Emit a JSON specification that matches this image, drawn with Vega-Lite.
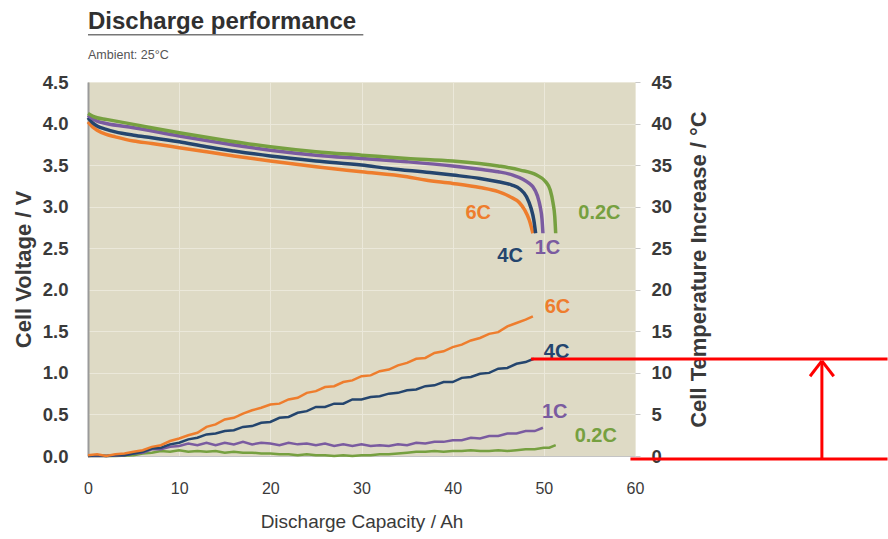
{
"$schema":"https://vega.github.io/schema/vega-lite/v6.json",
"width":547,"height":374,
"autosize":{"type":"none"},
"padding":{"left":88,"top":82,"right":253,"bottom":83},
"background":"white",
"config":{"font":"Liberation Sans","view":{"fill":"#dedac5","stroke":"#cbc8b8"},"axis":{"labelColor":"#3a3a3a","titleColor":"#3a3a3a"}},
"title":{"text":"Discharge performance","subtitle":"Ambient: 25°C","anchor":"start","frame":"group","fontSize":24,"fontWeight":"bold","color":"#303030","subtitleFontSize":12.5,"subtitleColor":"#555555","subtitlePadding":15,"offset":-28},
"datasets":{
"volt":[
{"r":"6C","x":0,"v":4.02},{"r":"6C","x":0.5,"v":3.96},{"r":"6C","x":1,"v":3.92},{"r":"6C","x":2,"v":3.87},{"r":"6C","x":3,"v":3.84},{"r":"6C","x":5,"v":3.79},{"r":"6C","x":7,"v":3.76},{"r":"6C","x":10,"v":3.71},{"r":"6C","x":13,"v":3.66},{"r":"6C","x":16,"v":3.61},{"r":"6C","x":20,"v":3.55},{"r":"6C","x":25,"v":3.48},{"r":"6C","x":30,"v":3.42},{"r":"6C","x":35,"v":3.36},{"r":"6C","x":37,"v":3.32},{"r":"6C","x":40,"v":3.28},{"r":"6C","x":43,"v":3.23},{"r":"6C","x":45,"v":3.18},{"r":"6C","x":46.3,"v":3.12},{"r":"6C","x":47.3,"v":3.05},{"r":"6C","x":47.9,"v":2.96},{"r":"6C","x":48.4,"v":2.84},{"r":"6C","x":48.8,"v":2.68},
{"r":"4C","x":0,"v":4.07},{"r":"4C","x":0.5,"v":4.01},{"r":"4C","x":1,"v":3.97},{"r":"4C","x":2,"v":3.93},{"r":"4C","x":3,"v":3.9},{"r":"4C","x":5,"v":3.86},{"r":"4C","x":7,"v":3.83},{"r":"4C","x":10,"v":3.78},{"r":"4C","x":13,"v":3.72},{"r":"4C","x":16,"v":3.67},{"r":"4C","x":20,"v":3.61},{"r":"4C","x":25,"v":3.55},{"r":"4C","x":30,"v":3.5},{"r":"4C","x":33,"v":3.46},{"r":"4C","x":37.5,"v":3.41},{"r":"4C","x":40,"v":3.38},{"r":"4C","x":43,"v":3.34},{"r":"4C","x":45,"v":3.3},{"r":"4C","x":46.5,"v":3.26},{"r":"4C","x":47.4,"v":3.21},{"r":"4C","x":48.1,"v":3.12},{"r":"4C","x":48.6,"v":2.98},{"r":"4C","x":48.9,"v":2.84},{"r":"4C","x":49.1,"v":2.68},
{"r":"1C","x":0,"v":4.1},{"r":"1C","x":0.5,"v":4.06},{"r":"1C","x":1,"v":4.03},{"r":"1C","x":2,"v":4.0},{"r":"1C","x":5,"v":3.95},{"r":"1C","x":10,"v":3.85},{"r":"1C","x":15,"v":3.76},{"r":"1C","x":20,"v":3.68},{"r":"1C","x":25,"v":3.62},{"r":"1C","x":30,"v":3.58},{"r":"1C","x":35,"v":3.54},{"r":"1C","x":40,"v":3.49},{"r":"1C","x":43,"v":3.45},{"r":"1C","x":45,"v":3.42},{"r":"1C","x":46.6,"v":3.38},{"r":"1C","x":47.7,"v":3.33},{"r":"1C","x":48.4,"v":3.28},{"r":"1C","x":48.8,"v":3.24},{"r":"1C","x":49.3,"v":3.13},{"r":"1C","x":49.6,"v":3.0},{"r":"1C","x":49.8,"v":2.85},{"r":"1C","x":49.9,"v":2.68},
{"r":"0.2C","x":0,"v":4.12},{"r":"0.2C","x":0.5,"v":4.09},{"r":"0.2C","x":1,"v":4.07},{"r":"0.2C","x":2,"v":4.05},{"r":"0.2C","x":5,"v":3.99},{"r":"0.2C","x":10,"v":3.89},{"r":"0.2C","x":15,"v":3.8},{"r":"0.2C","x":20,"v":3.72},{"r":"0.2C","x":25,"v":3.66},{"r":"0.2C","x":30,"v":3.62},{"r":"0.2C","x":35,"v":3.58},{"r":"0.2C","x":40,"v":3.55},{"r":"0.2C","x":45,"v":3.49},{"r":"0.2C","x":47.4,"v":3.44},{"r":"0.2C","x":49.2,"v":3.38},{"r":"0.2C","x":50.2,"v":3.3},{"r":"0.2C","x":50.7,"v":3.2},{"r":"0.2C","x":51.0,"v":3.05},{"r":"0.2C","x":51.2,"v":2.88},{"r":"0.2C","x":51.3,"v":2.68}
],
"temp":[
{"r":"0.2C","x":0,"t":0.0},{"r":"0.2C","x":3,"t":0.0},{"r":"0.2C","x":5,"t":0.1},{"r":"0.2C","x":6,"t":0.3},{"r":"0.2C","x":7,"t":0.4},{"r":"0.2C","x":8,"t":0.6},{"r":"0.2C","x":9,"t":0.5},{"r":"0.2C","x":10,"t":0.7},{"r":"0.2C","x":11,"t":0.5},{"r":"0.2C","x":12,"t":0.6},{"r":"0.2C","x":13,"t":0.5},{"r":"0.2C","x":14,"t":0.6},{"r":"0.2C","x":15,"t":0.4},{"r":"0.2C","x":16,"t":0.5},{"r":"0.2C","x":17,"t":0.4},{"r":"0.2C","x":18,"t":0.4},{"r":"0.2C","x":19,"t":0.3},{"r":"0.2C","x":20,"t":0.3},{"r":"0.2C","x":21,"t":0.2},{"r":"0.2C","x":22,"t":0.2},{"r":"0.2C","x":23,"t":0.1},{"r":"0.2C","x":24,"t":0.2},{"r":"0.2C","x":25,"t":0.1},{"r":"0.2C","x":26,"t":0.1},{"r":"0.2C","x":27,"t":0.0},{"r":"0.2C","x":28,"t":0.1},{"r":"0.2C","x":29,"t":0.0},{"r":"0.2C","x":30,"t":0.1},{"r":"0.2C","x":31,"t":0.1},{"r":"0.2C","x":32,"t":0.2},{"r":"0.2C","x":33,"t":0.2},{"r":"0.2C","x":34,"t":0.3},{"r":"0.2C","x":35,"t":0.4},{"r":"0.2C","x":36,"t":0.5},{"r":"0.2C","x":37,"t":0.5},{"r":"0.2C","x":38,"t":0.6},{"r":"0.2C","x":39,"t":0.5},{"r":"0.2C","x":40,"t":0.6},{"r":"0.2C","x":41,"t":0.6},{"r":"0.2C","x":42,"t":0.7},{"r":"0.2C","x":43,"t":0.6},{"r":"0.2C","x":44,"t":0.6},{"r":"0.2C","x":45,"t":0.7},{"r":"0.2C","x":46,"t":0.6},{"r":"0.2C","x":47,"t":0.7},{"r":"0.2C","x":48,"t":0.8},{"r":"0.2C","x":49,"t":0.8},{"r":"0.2C","x":50,"t":1.0},{"r":"0.2C","x":50.6,"t":1.0},{"r":"0.2C","x":51.3,"t":1.3},
{"r":"1C","x":0,"t":0.0},{"r":"1C","x":2,"t":0.0},{"r":"1C","x":4,"t":0.1},{"r":"1C","x":5,"t":0.3},{"r":"1C","x":6,"t":0.4},{"r":"1C","x":7,"t":0.8},{"r":"1C","x":8,"t":0.8},{"r":"1C","x":9,"t":1.1},{"r":"1C","x":10,"t":1.2},{"r":"1C","x":11,"t":1.5},{"r":"1C","x":12,"t":1.3},{"r":"1C","x":13,"t":1.6},{"r":"1C","x":14,"t":1.3},{"r":"1C","x":15,"t":1.6},{"r":"1C","x":16,"t":1.4},{"r":"1C","x":17,"t":1.7},{"r":"1C","x":18,"t":1.4},{"r":"1C","x":19,"t":1.6},{"r":"1C","x":20,"t":1.5},{"r":"1C","x":21,"t":1.3},{"r":"1C","x":22,"t":1.6},{"r":"1C","x":23,"t":1.4},{"r":"1C","x":24,"t":1.5},{"r":"1C","x":25,"t":1.3},{"r":"1C","x":26,"t":1.5},{"r":"1C","x":27,"t":1.2},{"r":"1C","x":28,"t":1.4},{"r":"1C","x":29,"t":1.2},{"r":"1C","x":30,"t":1.4},{"r":"1C","x":31,"t":1.2},{"r":"1C","x":32,"t":1.3},{"r":"1C","x":33,"t":1.2},{"r":"1C","x":34,"t":1.4},{"r":"1C","x":35,"t":1.3},{"r":"1C","x":36,"t":1.6},{"r":"1C","x":37,"t":1.5},{"r":"1C","x":38,"t":1.7},{"r":"1C","x":39,"t":1.7},{"r":"1C","x":40,"t":1.9},{"r":"1C","x":41,"t":1.9},{"r":"1C","x":42,"t":2.2},{"r":"1C","x":43,"t":2.1},{"r":"1C","x":44,"t":2.4},{"r":"1C","x":45,"t":2.4},{"r":"1C","x":46,"t":2.7},{"r":"1C","x":47,"t":2.7},{"r":"1C","x":48,"t":3.0},{"r":"1C","x":49,"t":3.0},{"r":"1C","x":49.9,"t":3.4},
{"r":"4C","x":0,"t":0.0},{"r":"4C","x":1,"t":0.1},{"r":"4C","x":2,"t":0.0},{"r":"4C","x":3,"t":0.1},{"r":"4C","x":4,"t":0.1},{"r":"4C","x":5,"t":0.3},{"r":"4C","x":6,"t":0.5},{"r":"4C","x":7,"t":0.9},{"r":"4C","x":8,"t":1.0},{"r":"4C","x":9,"t":1.4},{"r":"4C","x":10,"t":1.6},{"r":"4C","x":11,"t":2.0},{"r":"4C","x":12,"t":2.2},{"r":"4C","x":13,"t":2.6},{"r":"4C","x":14,"t":2.7},{"r":"4C","x":15,"t":3.0},{"r":"4C","x":16,"t":3.1},{"r":"4C","x":17,"t":3.5},{"r":"4C","x":18,"t":3.6},{"r":"4C","x":19,"t":4.0},{"r":"4C","x":20,"t":4.1},{"r":"4C","x":21,"t":4.6},{"r":"4C","x":22,"t":4.7},{"r":"4C","x":23,"t":5.2},{"r":"4C","x":24,"t":5.4},{"r":"4C","x":25,"t":5.9},{"r":"4C","x":26,"t":5.9},{"r":"4C","x":27,"t":6.3},{"r":"4C","x":28,"t":6.3},{"r":"4C","x":29,"t":6.8},{"r":"4C","x":30,"t":6.8},{"r":"4C","x":31,"t":7.1},{"r":"4C","x":32,"t":7.2},{"r":"4C","x":33,"t":7.5},{"r":"4C","x":34,"t":7.6},{"r":"4C","x":35,"t":7.9},{"r":"4C","x":36,"t":8.0},{"r":"4C","x":37,"t":8.4},{"r":"4C","x":38,"t":8.5},{"r":"4C","x":39,"t":8.9},{"r":"4C","x":40,"t":8.9},{"r":"4C","x":41,"t":9.4},{"r":"4C","x":42,"t":9.5},{"r":"4C","x":43,"t":9.9},{"r":"4C","x":44,"t":10.0},{"r":"4C","x":45,"t":10.5},{"r":"4C","x":46,"t":10.6},{"r":"4C","x":47,"t":11.1},{"r":"4C","x":48,"t":11.3},{"r":"4C","x":48.9,"t":11.7},
{"r":"6C","x":0,"t":0.1},{"r":"6C","x":1,"t":0.2},{"r":"6C","x":2,"t":0.0},{"r":"6C","x":3,"t":0.2},{"r":"6C","x":4,"t":0.3},{"r":"6C","x":5,"t":0.5},{"r":"6C","x":6,"t":0.7},{"r":"6C","x":7,"t":1.1},{"r":"6C","x":8,"t":1.3},{"r":"6C","x":9,"t":1.8},{"r":"6C","x":10,"t":2.1},{"r":"6C","x":11,"t":2.5},{"r":"6C","x":12,"t":2.8},{"r":"6C","x":13,"t":3.5},{"r":"6C","x":14,"t":3.8},{"r":"6C","x":15,"t":4.4},{"r":"6C","x":16,"t":4.6},{"r":"6C","x":17,"t":5.1},{"r":"6C","x":18,"t":5.5},{"r":"6C","x":19,"t":5.8},{"r":"6C","x":20,"t":6.2},{"r":"6C","x":21,"t":6.3},{"r":"6C","x":22,"t":6.8},{"r":"6C","x":23,"t":7.0},{"r":"6C","x":24,"t":7.6},{"r":"6C","x":25,"t":7.8},{"r":"6C","x":26,"t":8.3},{"r":"6C","x":27,"t":8.4},{"r":"6C","x":28,"t":8.9},{"r":"6C","x":29,"t":9.1},{"r":"6C","x":30,"t":9.6},{"r":"6C","x":31,"t":9.7},{"r":"6C","x":32,"t":10.2},{"r":"6C","x":33,"t":10.4},{"r":"6C","x":34,"t":10.9},{"r":"6C","x":35,"t":11.2},{"r":"6C","x":36,"t":11.7},{"r":"6C","x":37,"t":11.8},{"r":"6C","x":38,"t":12.4},{"r":"6C","x":39,"t":12.6},{"r":"6C","x":40,"t":13.1},{"r":"6C","x":41,"t":13.4},{"r":"6C","x":42,"t":13.9},{"r":"6C","x":43,"t":14.2},{"r":"6C","x":44,"t":14.7},{"r":"6C","x":45,"t":14.9},{"r":"6C","x":46,"t":15.6},{"r":"6C","x":47,"t":16.0},{"r":"6C","x":48,"t":16.4},{"r":"6C","x":48.8,"t":16.8}
],
"lblv":[{"r":"6C","x":42.8,"v":2.92},{"r":"4C","x":46.3,"v":2.41},{"r":"1C","x":50.4,"v":2.5},{"r":"0.2C","x":56.1,"v":2.92}],
"lblt":[{"r":"6C","x":51.5,"t":17.9},{"r":"4C","x":51.4,"t":12.5},{"r":"1C","x":51.2,"t":5.3},{"r":"0.2C","x":55.7,"t":2.4}],
"anno":[{"x":48.6,"x2":87.7,"t":11.67,"t2":11.67},{"x":59.5,"x2":87.7,"t":-0.36,"t2":-0.36},{"x":80.5,"x2":80.5,"t":-0.36,"t2":11.4},{"x":79.2,"x2":80.5,"t":9.6,"t2":11.45},{"x":81.8,"x2":80.5,"t":9.6,"t2":11.45}]
},
"layer":[
{"layer":[
{"data":{"name":"volt"},"mark":{"type":"line","strokeWidth":3.5,"interpolate":"monotone","clip":false},
"encoding":{
"x":{"field":"x","type":"quantitative","scale":{"domain":[0,60],"nice":false,"zero":false},"axis":{"values":[0,10,20,30,40,50,60],"title":"Discharge Capacity / Ah","labelFontSize":16,"labelPadding":24,"labelFlush":false,"labelOverlap":false,"ticks":false,"domainColor":"#c4c4c4","grid":true,"gridColor":"#ebe8da","titleFontSize":19,"titleFontWeight":"normal","titlePadding":16}},
"y":{"field":"v","type":"quantitative","scale":{"domain":[0,4.5],"nice":false,"zero":false},"axis":{"values":[0,0.5,1,1.5,2,2.5,3,3.5,4,4.5],"format":".1f","title":"Cell Voltage / V","labelFontSize":18.5,"labelFontWeight":"bold","labelPadding":20,"labelOverlap":false,"labelFlush":false,"ticks":false,"domainColor":"#9a9a9a","domainWidth":2,"grid":true,"gridColor":"#ebe8da","titleFontSize":22,"titleFontWeight":"bold","titlePadding":7}},
"color":{"field":"r","type":"nominal","scale":{"domain":["0.2C","1C","4C","6C"],"range":["#76a040","#7a5ba0","#24456e","#ee7d2d"]},"legend":null}}},
{"data":{"name":"lblv"},"mark":{"type":"text","fontSize":20,"fontWeight":"bold","align":"center","baseline":"middle","clip":false},
"encoding":{"x":{"field":"x","type":"quantitative"},"y":{"field":"v","type":"quantitative"},"text":{"field":"r","type":"nominal"},"color":{"field":"r","type":"nominal"}}},
{"data":{"values":[{}]},"mark":{"type":"rule","clip":false,"strokeWidth":1.5,"color":"#777777"},
"encoding":{"x":{"datum":0,"type":"quantitative"},"x2":{"datum":30.2},"y":{"datum":5.07,"type":"quantitative"}}}
]},
{"layer":[
{"data":{"name":"temp"},"mark":{"type":"line","strokeWidth":2.5,"clip":false},
"encoding":{
"x":{"field":"x","type":"quantitative"},
"y":{"field":"t","type":"quantitative","scale":{"domain":[0,45],"nice":false,"zero":false},"axis":{"orient":"right","values":[0,5,10,15,20,25,30,35,40,45],"title":"Cell Temperature Increase / °C","labelFontSize":18.5,"labelFontWeight":"bold","labelPadding":11,"labelOverlap":false,"labelFlush":false,"tickSize":5,"tickColor":"#c8c8c8","domain":false,"grid":false,"titleFontSize":22,"titleFontWeight":"bold","titleAngle":-90,"titlePadding":39}},
"color":{"field":"r","type":"nominal"}}},
{"data":{"name":"lblt"},"mark":{"type":"text","fontSize":20,"fontWeight":"bold","align":"center","baseline":"middle","clip":false},
"encoding":{"x":{"field":"x","type":"quantitative"},"y":{"field":"t","type":"quantitative"},"text":{"field":"r","type":"nominal"},"color":{"field":"r","type":"nominal"}}},
{"data":{"name":"anno"},"mark":{"type":"rule","clip":false,"strokeWidth":3,"color":"#ff0000"},
"encoding":{"x":{"field":"x","type":"quantitative"},"x2":{"field":"x2"},"y":{"field":"t","type":"quantitative"},"y2":{"field":"t2"}}}
]}
],
"resolve":{"scale":{"y":"independent"}}
}
